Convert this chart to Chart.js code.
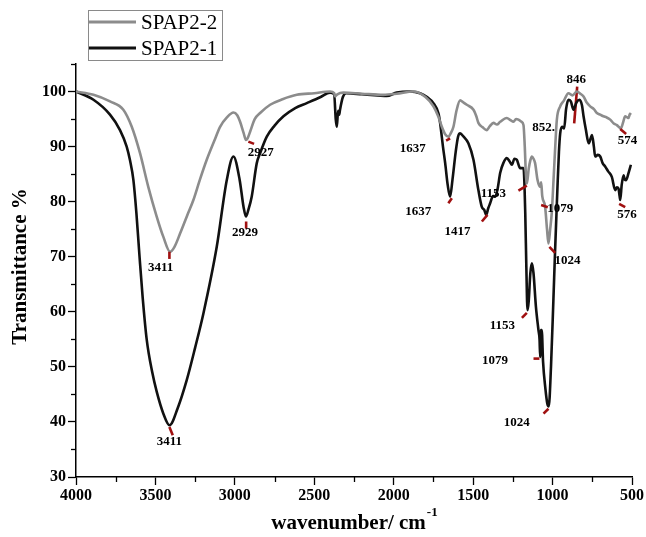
<!DOCTYPE html>
<html>
<head>
<meta charset="utf-8">
<script src="https://cdn.jsdelivr.net/npm/chart.js@4.4.1/dist/chart.umd.min.js"></script>
<style>
  html, body { margin: 0; padding: 0; background: #ffffff; }
  #wrap { width: 646px; height: 537px; position: relative; }
</style>
</head>
<body>
<div id="wrap"><canvas id="c" width="646" height="537"></canvas></div>
<script>
// ---------------- DATA ----------------
const seriesNames = ['SPAP2-2', 'SPAP2-1'];

// SPAP2-2 (gray)
const wn2 = [4000,3890,3786,3702,3649,3597,3545,3492,3450,3408,3380,3345,3300,3261,3220,3177,3130,3093,3050,3009,2985,2967,2945,2930,2920,2904,2875,2841,2778,2700,2610,2500,2401,2375,2369,2355,2317,2200,2065,1981,1876,1800,1750,1720,1697,1675,1655,1640,1624,1605,1582,1560,1540,1498,1480,1467,1440,1414,1395,1372,1350,1330,1288,1265,1246,1230,1215,1195,1183,1175,1168,1162,1150,1140,1130,1120,1110,1095,1078,1072,1065,1047,1035,1026,1015,1005,994,985,973,952,930,900,875,847,825,805,785,763,740,721,700,679,660,637,615,595,580,570,555,543,530,522,515,507];
const t2  = [100,99.4,98.2,96.7,93.6,88.8,82.7,77.3,73.6,70.9,71.8,74.2,77.5,80.3,84,87.6,91,93.6,95.3,96.2,95.7,94.5,92.5,91.2,91.5,92.7,95,96.1,97.6,98.6,99.4,99.7,100,99.7,99.1,99.5,99.8,99.6,99.4,99.6,100,99,97.3,95.5,93.6,92.2,91.8,92.5,93.6,96.5,98.4,98,97.6,96.7,95.5,94.3,93.5,93,93.7,94.3,94,94.5,95.2,94.8,94.5,95,94.9,94.5,93.9,90,85,83.3,86,87.5,88.2,87.8,87,84,82.7,83.5,81,79.1,75,72.4,75,78,83.9,89,94.9,97.3,98.3,99.7,99.3,100,99.6,99.1,98,97.3,96.8,96.1,95.8,95.5,95.3,94.9,94.2,93.9,93.5,93.3,94.5,95.5,95.3,95.2,95.8,96.1];

// SPAP2-1 (black)
const wn1 = [4000,3890,3786,3723,3681,3660,3639,3620,3600,3580,3555,3520,3492,3450,3411,3360,3303,3250,3198,3114,3051,3009,2970,2945,2930,2915,2894,2862,2841,2799,2750,2694,2620,2547,2460,2401,2375,2365,2358,2350,2343,2338,2320,2300,2200,2100,2044,1981,1900,1834,1790,1750,1718,1708,1690,1676,1660,1645,1630,1610,1595,1582,1560,1530,1498,1467,1446,1430,1418,1405,1393,1375,1361,1345,1330,1310,1288,1270,1256,1240,1225,1204,1183,1172,1165,1158,1150,1140,1130,1120,1105,1089,1082,1078,1073,1068,1060,1045,1033,1024,1010,995,984,970,960,952,940,927,915,900,885,868,850,830,815,805,790,773,760,752,740,732,715,700,685,669,650,627,606,595,585,578,574,565,553,545,537,522,507];
const t1  = [100,98.5,95.8,93,90,87.5,84,78,70,62.5,55,49,45.5,41.5,39.4,42.5,47.6,53.5,59.7,71.8,83.9,88.2,84,79,77.3,78.5,80.9,87,88.8,91.8,93.8,95.5,97,97.9,99,99.8,99.5,95,93.6,96.5,95.8,96.7,99,99.7,99.5,99.3,99.2,99.8,100,99.7,99,97.9,96,94.3,90,87,83,80.9,84,89,91.8,92.4,91.8,90.6,87.6,82.1,79.1,78.5,77.6,78.8,79.7,81,80.9,82.5,85.2,87,87.9,87.3,86.7,87.8,87.6,86.1,86.1,78,68,60.3,62,67,68.8,67,61,56.7,55,51.8,56.7,56.7,51,46,43.3,42.8,50,62,71.2,82,89,92.4,93.6,93.3,96.8,98.5,98.2,96.7,98,98.5,97.5,95.5,93,90.6,91.5,92.1,90,88.2,88.5,88.2,87,86.4,85.5,84.5,82.1,82.6,82.4,81,80.3,83,84.8,84,83.9,85.2,86.7];

// Tick values
const xMajorTicks = [4000,3500,3000,2500,2000,1500,1000,500];
const xMinorTicks = [3750,3250,2750,2250,1750,1250,750];
const yMajorTicks = [30,40,50,60,70,80,90,100];
const yMinorTicks = [35,45,55,65,75,85,95,105];

// Peak annotations: [text, labelX, labelY, tickX1, tickY1, tickX2, tickY2, under]
const peakLabels = [
  ['3411', 3467, 68.1, 3412, 70.9, 3412, 69.6, 0],
  ['3411', 3412, 36.4, 3412, 39.1, 3391, 37.6, 0],
  ['2929', 2936, 74.3, 2929, 76.4, 2929, 75.1, 0],
  ['2927', 2837, 88.9, 2915, 90.9, 2879, 90.5, 0],
  ['1637', 1880, 89.7, 1670, 91.1, 1645, 91.5, 0],
  ['1637', 1845, 78.1, 1656, 79.7, 1634, 80.6, 0],
  ['1417', 1599, 74.5, 1445, 76.4, 1410, 77.6, 0],
  ['1153', 1372, 81.4, 1215, 82.0, 1162, 82.9, 0],
  ['1079', 952, 78.8, 1072, 79.4, 1030, 79.0, 0],
  ['1024', 906, 69.3, 1020, 71.8, 984, 70.7, 0],
  ['852.', 1057, 93.5, null, null, null, null, 0],
  ['846', 851, 102.1, 845, 100.9, 864, 94.2, 1],
  ['574', 529, 91.1, 574, 93.2, 537, 92.3, 0],
  ['576', 532, 77.6, 581, 79.6, 543, 79.0, 0],
  ['1153', 1316, 57.4, 1193, 58.9, 1162, 59.8, 0],
  ['1079', 1362, 51.1, 1120, 51.5, 1083, 51.5, 0],
  ['1024', 1225, 39.9, 1057, 41.5, 1026, 42.4, 0]
];

const xTitle = 'wavenumber/ cm';
const xTitleSup = '-1';
const yTitle = 'Transmittance %';

// ---------------- STYLE ----------------
const SERIF = '"Liberation Serif", "Times New Roman", Times, serif';
const GRAY = '#8c8c8c';
const BLACK = '#111111';
const RED = '#a01010';

function toPts(xs, ys) { return xs.map((x, i) => ({ x: x, y: ys[i] })); }

function drawTicksFor(chart, under) {
  const ctx = chart.ctx;
  const xs = chart.scales.x, ys = chart.scales.y;
  ctx.save();
  ctx.strokeStyle = RED;
  ctx.lineWidth = 2.6;
  ctx.lineCap = 'butt';
  peakLabels.forEach(p => {
    if (p[3] === null || p[7] !== under) return;
    ctx.beginPath();
    ctx.moveTo(xs.getPixelForValue(p[3]), ys.getPixelForValue(p[4]));
    ctx.lineTo(xs.getPixelForValue(p[5]), ys.getPixelForValue(p[6]));
    ctx.stroke();
  });
  ctx.restore();
}

const decorPlugin = {
  id: 'decor',
  beforeDatasetsDraw(chart) {
    drawTicksFor(chart, 1);
  },
  afterDatasetsDraw(chart) {
    drawTicksFor(chart, 0);
    const ctx = chart.ctx;
    const xs = chart.scales.x, ys = chart.scales.y;
    ctx.save();
    ctx.fillStyle = '#000';
    ctx.font = 'bold 13px ' + SERIF;
    ctx.textAlign = 'center';
    ctx.textBaseline = 'middle';
    peakLabels.forEach(p => {
      ctx.fillText(p[0], xs.getPixelForValue(p[1]), ys.getPixelForValue(p[2]));
    });
    ctx.restore();
  },
  afterDraw(chart) {
    const ctx = chart.ctx;
    const xs = chart.scales.x, ys = chart.scales.y;
    const ca = chart.chartArea;
    ctx.save();
    // minor ticks
    ctx.strokeStyle = '#000';
    ctx.lineWidth = 1.3;
    xMinorTicks.forEach(v => {
      const px = Math.round(xs.getPixelForValue(v)) + 0.5;
      ctx.beginPath(); ctx.moveTo(px, ca.bottom); ctx.lineTo(px, ca.bottom + 5); ctx.stroke();
    });
    yMinorTicks.forEach(v => {
      const py = Math.round(ys.getPixelForValue(v)) + 0.5;
      ctx.beginPath(); ctx.moveTo(ca.left, py); ctx.lineTo(ca.left - 5, py); ctx.stroke();
    });
    // axis titles
    ctx.fillStyle = '#000';
    ctx.font = 'bold 21px ' + SERIF;
    ctx.textBaseline = 'alphabetic';
    const mainW = ctx.measureText(xTitle).width;
    ctx.font = 'bold 13px ' + SERIF;
    const supW = ctx.measureText(xTitleSup).width;
    const cx = (ca.left + ca.right) / 2;
    const startX = cx - (mainW + supW) / 2;
    ctx.font = 'bold 21px ' + SERIF;
    ctx.textAlign = 'left';
    ctx.fillText(xTitle, startX, 529);
    ctx.font = 'bold 13px ' + SERIF;
    ctx.fillText(xTitleSup, startX + mainW + 1, 516);

    ctx.save();
    ctx.translate(26, (ca.top + ca.bottom) / 2 - 4);
    ctx.rotate(-Math.PI / 2);
    ctx.font = 'bold 21px ' + SERIF;
    ctx.textAlign = 'center';
    ctx.textBaseline = 'alphabetic';
    ctx.fillText(yTitle, 0, 0);
    ctx.restore();

    // legend
    ctx.strokeStyle = '#8a8a8a';
    ctx.lineWidth = 1;
    ctx.strokeRect(88.5, 10.5, 134, 50);
    const colors = chart.data.datasets.map(d => d.borderColor);
    const names = chart.data.datasets.map(d => d.label);
    const rows = [22, 48];
    names.forEach((n, i) => {
      ctx.strokeStyle = colors[i];
      ctx.lineWidth = 3;
      ctx.beginPath(); ctx.moveTo(89, rows[i]); ctx.lineTo(136, rows[i]); ctx.stroke();
      ctx.fillStyle = '#000';
      ctx.font = '21px ' + SERIF;
      ctx.textAlign = 'left';
      ctx.textBaseline = 'middle';
      ctx.fillText(n, 141, rows[i] + 1);
    });
    ctx.restore();
  }
};

new Chart(document.getElementById('c'), {
  type: 'line',
  data: {
    datasets: [
      { label: seriesNames[0], data: toPts(wn2, t2), borderColor: GRAY, borderWidth: 2.6,
        pointRadius: 0, fill: false, cubicInterpolationMode: 'monotone' },
      { label: seriesNames[1], data: toPts(wn1, t1), borderColor: BLACK, borderWidth: 2.6,
        pointRadius: 0, fill: false, cubicInterpolationMode: 'monotone' }
    ]
  },
  options: {
    responsive: false,
    animation: false,
    parsing: true,
    layout: { padding: { top: 64, right: 14, left: 0, bottom: 0 } },
    plugins: { legend: { display: false }, tooltip: { enabled: false }, title: { display: false } },
    scales: {
      x: {
        type: 'linear', reverse: true, min: 500, max: 4000,
        afterBuildTicks(s) { s.ticks = xMajorTicks.map(v => ({ value: v })); },
        afterFit(s) { s.height = 60; },
        grid: { display: true, drawOnChartArea: false, drawTicks: true, tickLength: 8, tickColor: '#000', tickWidth: 1.3 },
        border: { display: true, color: '#000', width: 1.5 },
        ticks: { color: '#000', font: { family: SERIF, size: 16, weight: 'bold' }, padding: 1, maxRotation: 0, autoSkip: false,
                 callback: v => String(v) }
      },
      y: {
        type: 'linear', min: 30, max: 105,
        afterBuildTicks(s) { s.ticks = yMajorTicks.map(v => ({ value: v })); },
        afterFit(s) { s.width = 76; },
        grid: { display: true, drawOnChartArea: false, drawTicks: true, tickLength: 8, tickColor: '#000', tickWidth: 1.3 },
        border: { display: true, color: '#000', width: 1.5 },
        ticks: { color: '#000', font: { family: SERIF, size: 16, weight: 'bold' }, padding: 2, autoSkip: false,
                 callback: v => String(v) }
      }
    }
  },
  plugins: [decorPlugin]
});
</script>
</body>
</html>
